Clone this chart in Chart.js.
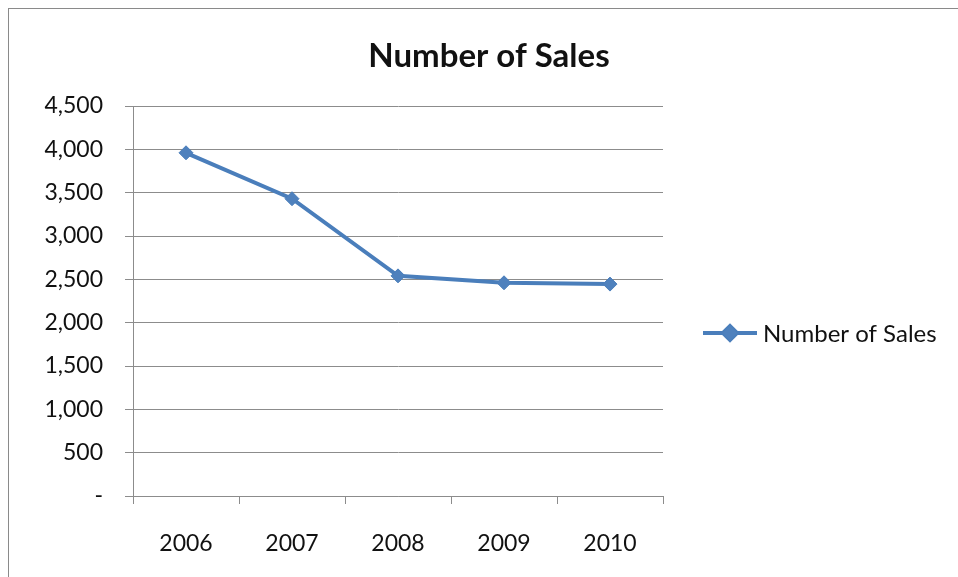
<!DOCTYPE html>
<html lang="en">
<head>
    <meta charset="UTF-8">
    <title>Number of Sales</title>
    <script src="https://cdn.jsdelivr.net/npm/chart.js"></script>
    <style>
        html, body { margin: 0; padding: 0; background: #fff; overflow: hidden; }
        #frame {
            position: absolute; left: 8px; top: 8px;
            width: 1000px; height: 620px;
            border: 1px solid #8a8a8a;
        }
        #wrap { position: absolute; left: 0; top: 0; width: 958px; height: 577px; }
    </style>
</head>
<body>
    <div id="frame"></div>
    <div id="wrap"><canvas id="salesChart"></canvas></div>

    <script>
        // data
        const years = ["2006", "2007", "2008", "2009", "2010"];
        const sales = [3960, 3430, 2540, 2460, 2445];
        const seriesName = "Number of Sales";
        const chartTitle = "Number of Sales";
        const yTicks = [0, 500, 1000, 1500, 2000, 2500, 3000, 3500, 4000, 4500];

        const blue = "#4A7EBB";
        const gridGray = "#8c8c8c";
        const fontFam = "Lato, 'Open Sans', sans-serif";

        // title + Excel style legend drawn by hand
        const decor = {
            id: 'decor',
            afterDraw(chart) {
                const ctx = chart.ctx;
                const ds = chart.data.datasets[0];
                ctx.save();
                ctx.fillStyle = "#111";
                ctx.textAlign = "center";
                ctx.textBaseline = "middle";
                ctx.font = "bold 33px " + fontFam;
                ctx.fillText(chartTitle, 489, 56);

                // legend
                const ly = 333;
                ctx.strokeStyle = ds.borderColor;
                ctx.lineWidth = ds.borderWidth;
                ctx.beginPath();
                ctx.moveTo(703, ly);
                ctx.lineTo(757, ly);
                ctx.stroke();
                Chart.helpers.drawPoint(ctx, {pointStyle: 'rectRot', radius: 7, borderWidth: 1}, 730, ly);
                ctx.fillStyle = ds.pointBackgroundColor;
                ctx.fill();
                ctx.fillStyle = "#111";
                ctx.textAlign = "left";
                ctx.font = "24px " + fontFam;
                ctx.fillText(ds.label, 763, ly + 1);
                ctx.restore();
            }
        };

        new Chart(document.getElementById("salesChart"), {
            type: 'line',
            data: {
                labels: years,
                datasets: [{
                    label: seriesName,
                    data: sales,
                    borderColor: blue,
                    borderWidth: 4,
                    pointStyle: 'rectRot',
                    pointRadius: 7,
                    pointBackgroundColor: "#4F81BD",
                    pointBorderColor: blue,
                    pointBorderWidth: 1,
                    tension: 0,
                    fill: false
                }]
            },
            options: {
                responsive: true,
                maintainAspectRatio: false,
                animation: false,
                layout: { padding: { top: 106, right: 295, bottom: 0, left: 0 } },
                plugins: {
                    legend: { display: false },
                    title: { display: false },
                    tooltip: { enabled: false }
                },
                scales: {
                    x: {
                        offset: true,
                        afterFit(scale) { scale.height = 81; },
                        grid: {
                            offset: true,
                            drawOnChartArea: false,
                            drawTicks: true,
                            tickLength: 8,
                            color: gridGray
                        },
                        border: { color: gridGray, width: 1 },
                        ticks: {
                            padding: 26,
                            color: "#111",
                            font: { family: fontFam, size: 23 }
                        }
                    },
                    y: {
                        min: 0,
                        max: 4500,
                        afterFit(scale) { scale.width = 133; },
                        afterBuildTicks(scale) {
                            scale.ticks = yTicks.map(v => ({ value: v }));
                        },
                        grid: {
                            color: gridGray,
                            lineWidth: 1,
                            tickLength: 8
                        },
                        border: { color: gridGray, width: 1 },
                        ticks: {
                            padding: 22,
                            color: "#111",
                            font: { family: fontFam, size: 23 },
                            callback: v => v === 0 ? "-" : v.toLocaleString("en-US")
                        }
                    }
                }
            },
            plugins: [decor]
        });
    </script>
</body>
</html>
